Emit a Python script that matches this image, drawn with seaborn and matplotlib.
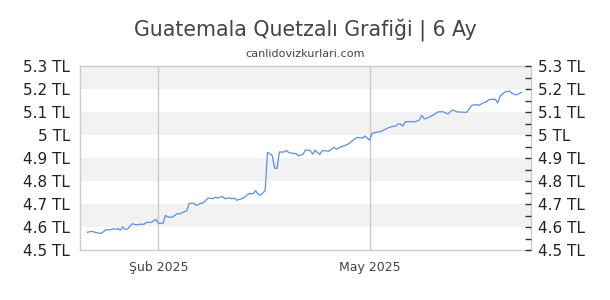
import matplotlib
matplotlib.use("Agg")
import matplotlib.pyplot as plt
import seaborn as sns
import pandas as pd
from matplotlib.ticker import MultipleLocator

title = "Guatemala Quetzalı Grafiği | 6 Ay"
subtitle = "canlidovizkurlari.com"

dates = [
    "2025-01-02", "2025-01-04", "2025-01-05", "2025-01-07", "2025-01-08", "2025-01-10",
    "2025-01-12", "2025-01-13", "2025-01-14", "2025-01-15", "2025-01-16", "2025-01-17",
    "2025-01-18", "2025-01-19", "2025-01-21", "2025-01-23", "2025-01-24", "2025-01-26",
    "2025-01-27", "2025-01-29", "2025-01-31", "2025-02-01", "2025-02-03", "2025-02-04",
    "2025-02-05", "2025-02-07", "2025-02-09", "2025-02-10", "2025-02-12", "2025-02-13",
    "2025-02-14", "2025-02-16", "2025-02-17", "2025-02-19", "2025-02-20", "2025-02-22",
    "2025-02-24", "2025-02-25", "2025-02-26", "2025-02-28", "2025-03-01", "2025-03-03",
    "2025-03-04", "2025-03-05", "2025-03-06", "2025-03-08", "2025-03-09", "2025-03-10",
    "2025-03-11", "2025-03-13", "2025-03-14", "2025-03-15", "2025-03-16", "2025-03-18",
    "2025-03-19", "2025-03-21", "2025-03-22", "2025-03-23", "2025-03-24", "2025-03-26",
    "2025-03-27", "2025-03-28", "2025-03-30", "2025-03-31", "2025-04-01", "2025-04-03",
    "2025-04-04", "2025-04-06", "2025-04-07", "2025-04-08", "2025-04-10", "2025-04-11",
    "2025-04-14", "2025-04-16", "2025-04-17", "2025-04-19", "2025-04-20", "2025-04-22",
    "2025-04-23", "2025-04-24", "2025-04-26", "2025-04-28", "2025-04-29", "2025-05-01",
    "2025-05-02", "2025-05-04", "2025-05-06", "2025-05-07", "2025-05-09", "2025-05-11",
    "2025-05-12", "2025-05-13", "2025-05-14", "2025-05-15", "2025-05-16", "2025-05-18",
    "2025-05-20", "2025-05-22", "2025-05-23", "2025-05-24", "2025-05-25", "2025-05-26",
    "2025-05-28", "2025-05-30", "2025-06-01", "2025-06-03", "2025-06-04", "2025-06-05",
    "2025-06-07", "2025-06-10", "2025-06-11", "2025-06-13", "2025-06-15", "2025-06-16",
    "2025-06-18", "2025-06-19", "2025-06-20", "2025-06-21", "2025-06-23", "2025-06-24",
    "2025-06-25", "2025-06-27", "2025-06-29", "2025-06-30", "2025-07-02", "2025-07-03",
    "2025-07-04",
]
values = [
    4.577, 4.581, 4.578, 4.573, 4.573, 4.588,
    4.588, 4.593, 4.590, 4.593, 4.586, 4.601,
    4.590, 4.591, 4.614, 4.609, 4.612, 4.612,
    4.620, 4.620, 4.633, 4.616, 4.616, 4.651,
    4.643, 4.643, 4.658, 4.657, 4.667, 4.671,
    4.703, 4.703, 4.694, 4.703, 4.706, 4.726,
    4.723, 4.729, 4.726, 4.733, 4.723, 4.727,
    4.723, 4.726, 4.716, 4.723, 4.727, 4.735,
    4.745, 4.745, 4.758, 4.742, 4.738, 4.758,
    4.925, 4.910, 4.855, 4.855, 4.926, 4.926,
    4.933, 4.923, 4.920, 4.919, 4.909, 4.917,
    4.935, 4.933, 4.917, 4.934, 4.915, 4.932,
    4.930, 4.947, 4.938, 4.949, 4.952, 4.961,
    4.968, 4.978, 4.990, 4.986, 4.996, 4.978,
    5.007, 5.012, 5.016, 5.022, 5.032, 5.038,
    5.038, 5.048, 5.048, 5.038, 5.058, 5.058,
    5.057, 5.065, 5.086, 5.070, 5.073, 5.077,
    5.088, 5.101, 5.101, 5.091, 5.101, 5.109,
    5.100, 5.099, 5.099, 5.129, 5.132, 5.129,
    5.140, 5.143, 5.152, 5.155, 5.155, 5.140,
    5.170, 5.187, 5.191, 5.181, 5.174, 5.180,
    5.186,
]

y_ticks = [4.5, 4.6, 4.7, 4.8, 4.9, 5.0, 5.1, 5.2, 5.3]
y_labels = ["4.5 TL", "4.6 TL", "4.7 TL", "4.8 TL", "4.9 TL", "5 TL", "5.1 TL", "5.2 TL", "5.3 TL"]
x_ticks = ["2025-02-01", "2025-05-01"]
x_labels = ["Şub 2025", "May 2025"]

sns.set_style("white")
plt.rcParams["font.family"] = ["DejaVu Sans"]

W, H = 610, 300
fig = plt.figure(figsize=(W / 100, H / 100), dpi=100)
ax = fig.add_axes([80 / W, 1 - 250 / H, (531 - 80) / W, (250 - 66) / H])

df = pd.DataFrame({"date": pd.to_datetime(dates), "value": values})
sns.lineplot(data=df, x="date", y="value", ax=ax, color="#5a8ee8", linewidth=0.9, zorder=3)

ax.set_xlim(pd.Timestamp("2024-12-30"), pd.Timestamp("2025-07-08"))
ax.set_ylim(y_ticks[0], y_ticks[-1])

for i, (lo, hi) in enumerate(zip(y_ticks[:-1], y_ticks[1:])):
    if i % 2 == 1:
        ax.axhspan(lo, hi, color="#f2f2f2", zorder=0, lw=0)

ax.set_axisbelow(True)
ax.set_xticks(pd.to_datetime(x_ticks))
ax.set_xticklabels(x_labels)
ax.grid(axis="x", color="#cccccc", linewidth=1)
ax.grid(axis="y", visible=False)
ax.set_yticks(y_ticks)
ax.set_yticklabels(y_labels)
ax.tick_params(axis="x", length=0, pad=8, labelsize=9, labelcolor="#444444")
ax.tick_params(axis="y", length=0, pad=7, labelsize=11, labelcolor="#222222")
ax.set_xlabel("")
ax.set_ylabel("")
for s in ax.spines.values():
    s.set_color("#cccccc")
    s.set_linewidth(1)

ax2 = ax.twinx()
ax2.set_ylim(y_ticks[0], y_ticks[-1])
ax2.set_yticks(y_ticks)
ax2.set_yticklabels(y_labels)
ax2.yaxis.set_minor_locator(MultipleLocator(0.05))
ax2.tick_params(axis="y", which="both", direction="in", length=4, width=1,
                color="#333333", pad=5, labelsize=11, labelcolor="#222222")
for s in ax2.spines.values():
    s.set_visible(False)

fig.text(0.5, 1 - 30 / H, title, ha="center", va="center", fontsize=14.8, color="#444444")
fig.text(0.5, 1 - 54 / H, subtitle, ha="center", va="center", fontsize=8.1, color="#444444")

fig.savefig("out.png", dpi=100, facecolor="white")
